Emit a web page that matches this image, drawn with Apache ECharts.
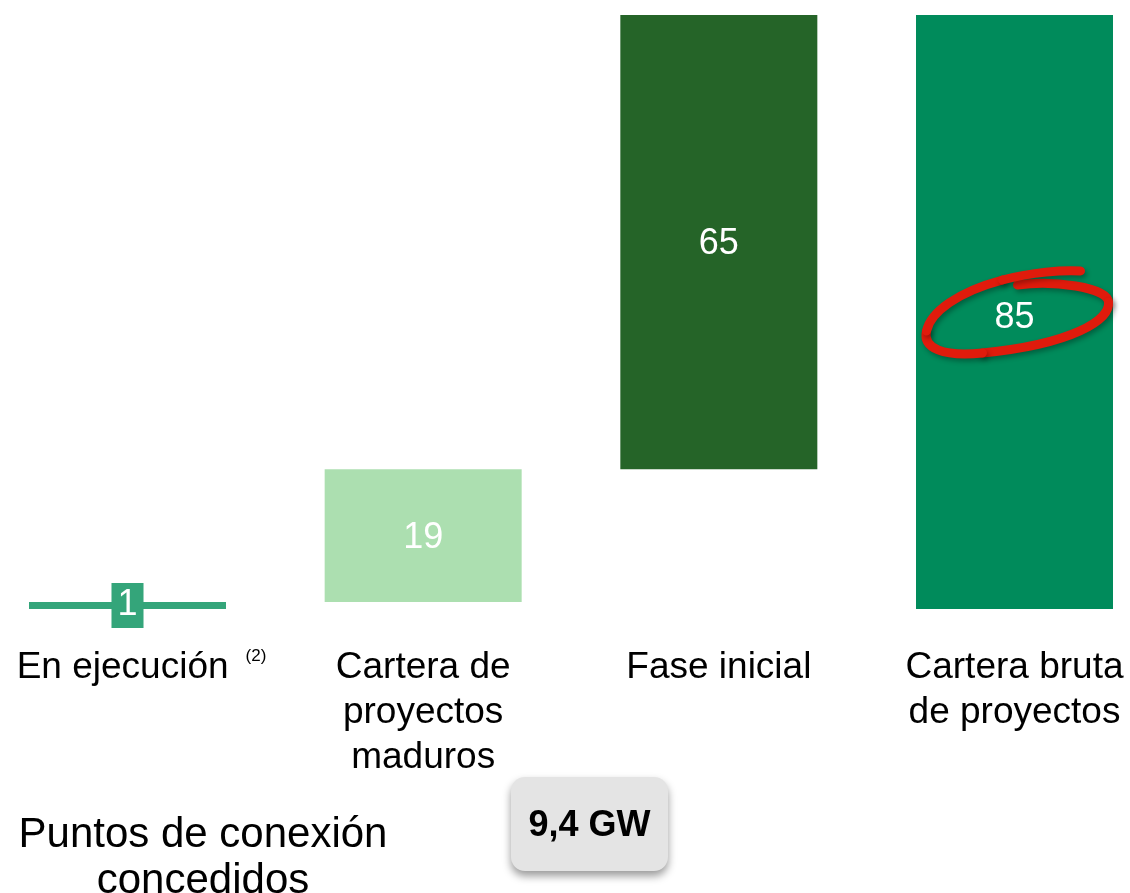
<!DOCTYPE html>
<html>
<head>
<meta charset="utf-8">
<script src="https://cdn.jsdelivr.net/npm/echarts@6.0.0/dist/echarts.min.js"></script>
<style>
  html, body { margin: 0; padding: 0; background: #fff; }
  #mapBox { width: 1130px; height: 893px; }
</style>
</head>
<body>
<div id="mapBox"></div>
<script>
// datos del gráfico
var categories = ["En ejecución", "Cartera de\nproyectos\nmaduros", "Fase inicial", "Cartera bruta\nde proyectos"];
var baseData = [0, 1, 20, 0];
var valueData = [1, 19, 65, 85];
var barColors = ["#34a57a", "#acdfb0", "#256428", "#008b5b"];
var noteMark = "(2)";
var totalLabel = "9,4 GW";
var footText = "Puntos de conexión\nconcedidos";

var fontFamily = "Liberation Sans, Arial, sans-serif";
var myChart = echarts.init(document.getElementById("mapBox"));

var option = {
  animation: false,
  backgroundColor: "#ffffff",
  // sin boundaryGap: las barras se centran en los ticks
  grid: { left: 127.5, right: 115.5, top: 15, bottom: 284, outerBoundsMode: "none" },
  xAxis: {
    type: "category",
    boundaryGap: false,
    data: categories,
    axisLine: { show: false },
    axisTick: { show: false },
    splitLine: { show: false },
    axisLabel: {
      interval: 0,
      margin: 36,
      color: "#000",
      fontFamily: fontFamily,
      fontSize: 37,
      lineHeight: 45,
      formatter: function (value, index) {
        // la primera categoría lleva la nota (2)
        if (index === 0) {
          return "{sp|}{a|" + value + "}{sup|" + noteMark + "}";
        }
        return value;
      },
      rich: {
        sp: { width: 28 },
        a: { fontSize: 37, lineHeight: 45, color: "#000", fontFamily: fontFamily },
        sup: {
          fontSize: 17,
          lineHeight: 20,
          verticalAlign: "top",
          padding: [3, 0, 0, 17],
          color: "#000",
          fontFamily: fontFamily
        }
      }
    }
  },
  yAxis: {
    type: "value",
    min: 0,
    max: 85,
    show: false,
    splitLine: { show: false }
  },
  series: [
    {
      name: "base",
      type: "bar",
      stack: "total",
      barWidth: 197,
      clip: false,
      itemStyle: { color: "transparent" },
      emphasis: { disabled: true },
      data: baseData
    },
    {
      name: "valor",
      type: "bar",
      stack: "total",
      barWidth: 197,
      clip: false,
      label: {
        show: true,
        position: "inside",
        offset: [0, 2],
        color: "#fff",
        fontFamily: fontFamily,
        fontSize: 36
      },
      data: valueData.map(function (v, i) {
        var item = { value: v, itemStyle: { color: barColors[i] } };
        if (i === 0) {
          item.label = {
            backgroundColor: barColors[0],
            padding: [4, 6, 3, 6],
            lineHeight: 38,
            offset: [0, 0]
          };
        }
        if (i === 3) {
          item.label = { offset: [0, 6] };
        }
        return item;
      })
    }
  ]
};
myChart.setOption(option);

// círculo rojo a mano alrededor del total
var c = myChart.convertToPixel({ xAxisIndex: 0, yAxisIndex: 0 }, [3, 85 / 2]);
var curves = [
  [5, -27, 40, -32, 95, -25, 96, -10],
  [96, -10, 98, 8, 60, 32, -30, 41],
  [-30, 41, -70, 45, -90, 36, -86, 19],
  [-86, 19, -82, 0, -55, -20, -10, -32],
  [-10, -32, 20, -40, 50, -42, 68, -41]
];

myChart.setOption({
  graphic: [
    {
      type: "group",
      x: c[0] - 2,
      y: c[1],
      z: 100,
      children: curves.map(function (p) {
        return {
          type: "bezierCurve",
          z: 100,
          shape: { x1: p[0], y1: p[1], cpx1: p[2], cpy1: p[3], cpx2: p[4], cpy2: p[5], x2: p[6], y2: p[7] },
          style: {
            fill: null,
            stroke: "#e01b0c",
            lineWidth: 9,
            lineCap: "round",
            shadowBlur: 5,
            shadowColor: "rgba(0,0,0,0.3)",
            shadowOffsetX: 2,
            shadowOffsetY: 3
          }
        };
      })
    },
    {
      type: "rect",
      shape: { x: 511, y: 777, width: 157, height: 94, r: 14 },
      style: {
        fill: "#e4e4e4",
        shadowBlur: 8,
        shadowOffsetY: 5,
        shadowColor: "rgba(0,0,0,0.4)"
      },
      z: 90
    },
    {
      type: "text",
      x: 589.5,
      y: 826,
      style: {
        text: totalLabel,
        fill: "#000",
        font: "bold 36px " + fontFamily,
        align: "center",
        verticalAlign: "middle"
      },
      z: 91
    },
    {
      type: "text",
      x: 203,
      y: 812,
      style: {
        text: footText,
        fill: "#000",
        font: "42px " + fontFamily,
        lineHeight: 46,
        align: "center",
        verticalAlign: "top"
      },
      z: 91
    }
  ]
});
</script>
</body>
</html>
